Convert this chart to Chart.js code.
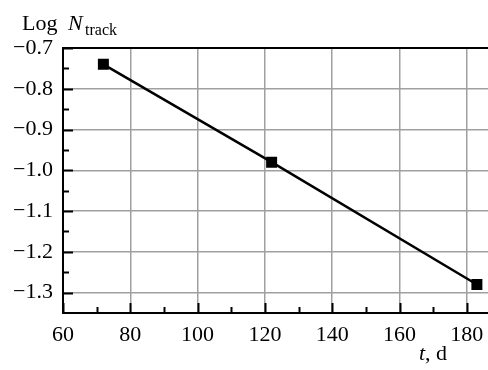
<!DOCTYPE html>
<html>
<head>
<meta charset="utf-8">
<script src="https://cdn.jsdelivr.net/npm/chart.js@4"></script>
<style>
  html, body { margin: 0; padding: 0; background: #fff; overflow: hidden; }
</style>
</head>
<body>
<canvas id="grafico" width="488" height="370"></canvas>
<script>
// dados
const tempo = [72, 122, 183];
const logN = [-0.74, -0.98, -1.28];

const xTicks = [60, 80, 100, 120, 140, 160, 180];
const xMinor = [70, 90, 110, 130, 150, 170];
const yTicks = [-0.7, -0.8, -0.9, -1.0, -1.1, -1.2, -1.3];
const yMinor = [-0.75, -0.85, -0.95, -1.05, -1.15, -1.25];

const fonte = '"Liberation Serif", "Times New Roman", serif';

// ticks para dentro, borda superior e títulos dos eixos
const extras = {
  id: 'extras',
  afterDraw(chart) {
    const { ctx, chartArea: a, scales: { x, y } } = chart;
    ctx.save();
    ctx.strokeStyle = '#000';
    ctx.lineWidth = 2;
    xTicks.forEach(v => {
      const px = Math.round(x.getPixelForValue(v)) + 0.5;
      ctx.beginPath(); ctx.moveTo(px, a.bottom); ctx.lineTo(px, a.bottom - 10); ctx.stroke();
    });
    xMinor.forEach(v => {
      const px = Math.round(x.getPixelForValue(v)) + 0.5;
      ctx.beginPath(); ctx.moveTo(px, a.bottom); ctx.lineTo(px, a.bottom - 6); ctx.stroke();
    });
    yTicks.forEach(v => {
      const py = Math.round(y.getPixelForValue(v)) + 0.5;
      ctx.beginPath(); ctx.moveTo(a.left, py); ctx.lineTo(a.left + 10, py); ctx.stroke();
    });
    yMinor.forEach(v => {
      const py = Math.round(y.getPixelForValue(v)) + 0.5;
      ctx.beginPath(); ctx.moveTo(a.left, py); ctx.lineTo(a.left + 6, py); ctx.stroke();
    });
    // borda de cima
    ctx.beginPath(); ctx.moveTo(a.left, a.top); ctx.lineTo(a.right, a.top); ctx.stroke();

    ctx.fillStyle = '#000';
    ctx.textBaseline = 'alphabetic';
    ctx.font = '22px ' + fonte;
    ctx.fillText('Log', 22, 30);
    ctx.font = 'italic 22px ' + fonte;
    ctx.fillText('N', 68, 30);
    ctx.font = '16px ' + fonte;
    ctx.fillText('track', 85, 35);

    ctx.font = 'italic 22px ' + fonte;
    ctx.fillText('t', 419, 360);
    ctx.font = '22px ' + fonte;
    ctx.fillText(', d', 425, 360);
    ctx.restore();
  }
};

new Chart(document.getElementById('grafico'), {
  type: 'scatter',
  data: {
    datasets: [{
      data: tempo.map((t, i) => ({ x: t, y: logN[i] })),
      showLine: true,
      borderColor: '#000',
      borderWidth: 2.5,
      backgroundColor: '#000',
      pointStyle: 'rect',
      pointRadius: 6,
      pointHoverRadius: 6
    }]
  },
  options: {
    responsive: false,
    animation: false,
    layout: { autoPadding: false, padding: { top: 48, left: 0, right: 0, bottom: 0 } },
    plugins: { legend: { display: false }, tooltip: { enabled: false } },
    scales: {
      x: {
        type: 'linear',
        min: 60,
        max: 186.3,
        afterBuildTicks: s => { s.ticks = xTicks.map(v => ({ value: v })); },
        afterFit: s => { s.height = 57; s.paddingRight = 0; s.paddingLeft = 0; },
        grid: { color: '#a0a0a0', lineWidth: 1.5, drawTicks: false },
        border: { color: '#000', width: 2 },
        ticks: {
          color: '#000',
          padding: 9,
          font: { family: fonte, size: 22 },
          maxRotation: 0
        }
      },
      y: {
        type: 'linear',
        min: -1.35,
        max: -0.7,
        afterBuildTicks: s => { s.ticks = yTicks.map(v => ({ value: v })); },
        afterFit: s => { s.width = 63; },
        grid: { color: '#a0a0a0', lineWidth: 1.5, drawTicks: false },
        border: { color: '#000', width: 2 },
        ticks: {
          color: '#000',
          padding: 10,
          font: { family: fonte, size: 22 },
          callback: v => '\u2212' + Math.abs(v).toFixed(1)
        }
      }
    }
  },
  plugins: [extras]
});
</script>
</body>
</html>
